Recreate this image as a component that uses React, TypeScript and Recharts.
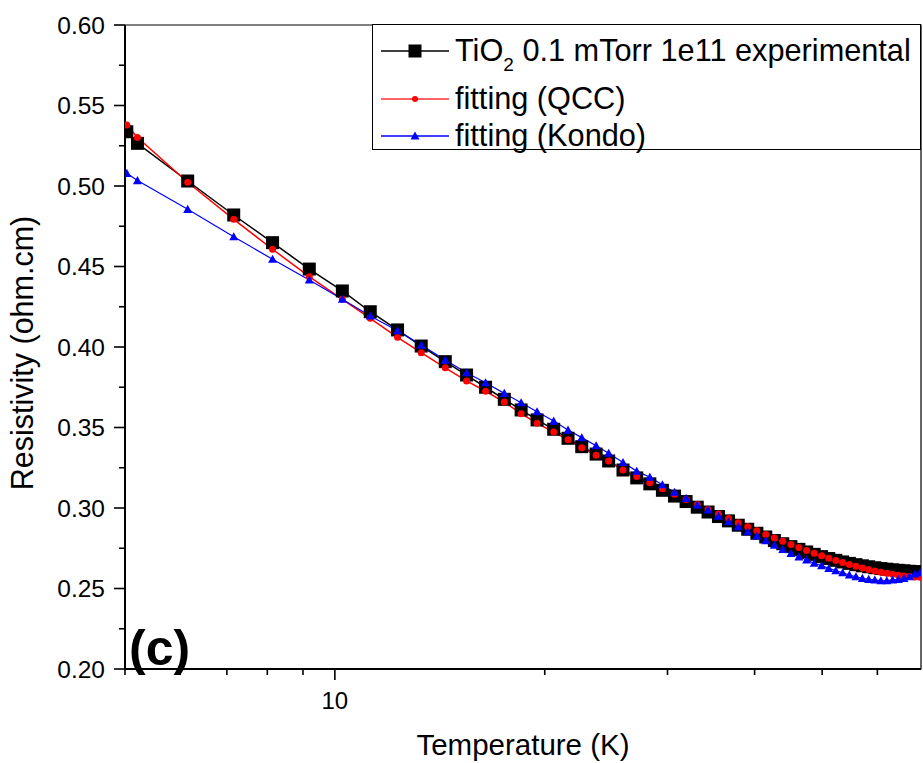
import React from 'react';
import { ComposedChart, Line, XAxis, YAxis, ReferenceArea, Legend } from 'recharts';

const temperatureK = [
  5.03, 5.21, 6.15, 7.16, 8.14, 9.19, 10.25, 11.24, 12.3, 13.3,
  14.4, 15.45, 16.45, 17.5, 18.5, 19.5, 20.6, 21.6, 22.6, 23.7,
  24.7, 25.9, 27.1, 28.3, 29.5, 30.7, 31.9, 33.1, 34.3, 35.5,
  36.7, 37.9, 39.1, 40.3, 41.5, 42.7, 43.9, 45.1, 46.3, 47.5,
  48.7, 49.9, 51.1, 52.3, 53.5, 54.7, 55.9, 57.1, 58.3, 59.5,
  60.7, 61.9, 63.1, 64.3, 65.5, 66.7, 67.9, 69.1,
];

const experimental = [
  0.5337, 0.5265, 0.5031, 0.482, 0.4648, 0.4484, 0.4348, 0.4219, 0.4106, 0.4006,
  0.3909, 0.3826, 0.375, 0.3675, 0.3609, 0.3547, 0.3489, 0.3433, 0.3381, 0.3335,
  0.3292, 0.3236, 0.3187, 0.315, 0.311, 0.3074, 0.304, 0.3005, 0.2975, 0.2947,
  0.292, 0.2893, 0.2868, 0.2843, 0.282, 0.2798, 0.2778, 0.276, 0.2743, 0.2727,
  0.2712, 0.2698, 0.2686, 0.2675, 0.2665, 0.2656, 0.2648, 0.2641, 0.2635, 0.2629,
  0.2624, 0.262, 0.2616, 0.2613, 0.261, 0.2607, 0.2605, 0.2603,
];

const fittingQCC = [
  0.5379, 0.5301, 0.5023, 0.4793, 0.4607, 0.4437, 0.4296, 0.4178, 0.406, 0.3965,
  0.3871, 0.3789, 0.3725, 0.3658, 0.3586, 0.3526, 0.3472, 0.3424, 0.3375, 0.3327,
  0.3292, 0.3236, 0.3195, 0.3157, 0.312, 0.3086, 0.3053, 0.3021, 0.2991, 0.2962,
  0.2935, 0.2909, 0.2884, 0.2859, 0.2836, 0.2814, 0.2793, 0.2773, 0.2754, 0.2736,
  0.2719, 0.2703, 0.2688, 0.2674, 0.2661, 0.2649, 0.2638, 0.2627, 0.2618, 0.2609,
  0.2601, 0.2594, 0.2588, 0.2583, 0.2578, 0.2575, 0.2572, 0.257,
];

const fittingKondo = [
  0.5079, 0.5034, 0.4855, 0.4685, 0.4545, 0.4416, 0.4297, 0.4193, 0.4101, 0.4012,
  0.3919, 0.384, 0.3778, 0.3712, 0.3654, 0.3598, 0.354, 0.3484, 0.3437, 0.3387,
  0.334, 0.3283, 0.3229, 0.3191, 0.3145, 0.3098, 0.306, 0.3019, 0.2988, 0.295,
  0.2915, 0.2884, 0.2853, 0.2826, 0.2797, 0.277, 0.2743, 0.2718, 0.2697, 0.2677,
  0.2657, 0.2642, 0.2625, 0.2611, 0.2598, 0.2584, 0.2573, 0.2563, 0.2557, 0.2553,
  0.2548, 0.2548, 0.2553, 0.2557, 0.2563, 0.2573, 0.259, 0.2598,
];

const xTicks = [5, 6, 7, 8, 9, 10, 20, 30, 40, 50, 60];
const xLabeledTicks = [10];
const yTicks = [0.2, 0.225, 0.25, 0.275, 0.3, 0.325, 0.35, 0.375, 0.4, 0.425, 0.45, 0.475, 0.5, 0.525, 0.55, 0.575, 0.6];

const seriesNames = ['experimental', 'fitting (QCC)', 'fitting (Kondo)'];

const data = temperatureK.map((t, i) => ({
  t,
  exp: experimental[i],
  qcc: fittingQCC[i],
  kondo: fittingKondo[i],
}));

const FONT = '"Liberation Sans", Arial, sans-serif';

const SquareDot = (props: any) => {
  const { cx, cy } = props;
  if (cx == null || cy == null) return null;
  return <rect x={cx - 6.5} y={cy - 6.5} width={13} height={13} fill="#000" />;
};
const CircleDot = (props: any) => {
  const { cx, cy } = props;
  if (cx == null || cy == null) return null;
  return <circle cx={cx} cy={cy} r={3.5} fill="#ff0000" />;
};
const TriDot = (props: any) => {
  const { cx, cy } = props;
  if (cx == null || cy == null) return null;
  const s = 4.5;
  return <polygon points={`${cx},${cy - s} ${cx - s},${cy + s * 0.8} ${cx + s},${cy + s * 0.8}`} fill="#0000ff" />;
};

const XTick = (props: any) => {
  const { x, y, payload } = props;
  const major = xLabeledTicks.includes(payload.value);
  return (
    <g>
      <line x1={x} y1={y} x2={x} y2={y + (major ? 11 : 6)} stroke="#000" strokeWidth={1.6} />
      {major && (
        <text x={x} y={y + 40} textAnchor="middle" fontSize={24} fontFamily={FONT} fill="#000">
          {payload.value}
        </text>
      )}
    </g>
  );
};

const YTick = (props: any) => {
  const { x, y, payload } = props;
  const v = payload.value;
  const major = Math.round(v * 1000) % 50 === 0;
  return (
    <g>
      <line x1={x - (major ? 11 : 6)} y1={y} x2={x} y2={y} stroke="#000" strokeWidth={1.6} />
      {major && (
        <text x={x - 20} y={y} dy="0.36em" textAnchor="end" fontSize={24.5} fontFamily={FONT} fill="#000">
          {v.toFixed(2)}
        </text>
      )}
    </g>
  );
};

const YLabel = (props: any) => {
  const vb = props.viewBox || { x: 0, y: 25, width: 125, height: 644 };
  const cx = vb.x + 22;
  const cy = vb.y + vb.height / 2 + 6;
  return (
    <text x={cx} y={cy} transform={`rotate(-90 ${cx} ${cy})`} textAnchor="middle" dy="0.36em" fontSize={30.5} fontFamily={FONT} fill="#000">
      Resistivity (ohm.cm)
    </text>
  );
};

const XLabel = (props: any) => {
  const vb = props.viewBox || { x: 125, y: 669, width: 796, height: 94 };
  const cx = vb.x + vb.width / 2;
  return (
    <text x={cx} y={vb.y + 86} textAnchor="middle" fontSize={29.5} fontFamily={FONT} fill="#000">
      Temperature (K)
    </text>
  );
};

const LegendContent = () => {
  const rows = [
    { color: '#000', kind: 'square', center: 26 },
    { color: '#ff3030', kind: 'circle', center: 73.5 },
    { color: '#0000ff', kind: 'tri', center: 110.5 },
  ];
  return (
    <div
      style={{
        position: 'relative',
        width: 549,
        height: 126,
        boxSizing: 'border-box',
        border: '1.5px solid #000',
        background: '#fff',
        fontFamily: FONT,
        fontSize: 30.7,
        color: '#000',
      }}
    >
      {rows.map((r, i) => (
        <div key={i} style={{ position: 'absolute', left: 0, top: r.center - 20, height: 40, width: 545 }}>
          <svg width={80} height={40} style={{ position: 'absolute', left: 6, top: 0 }}>
            <line x1={2} y1={20} x2={70} y2={20} stroke={r.color} strokeWidth={1.5} />
            {r.kind === 'square' && <rect x={29.5} y={13.5} width={13} height={13} fill="#000" />}
            {r.kind === 'circle' && <circle cx={36} cy={20} r={3} fill="#ff0000" />}
            {r.kind === 'tri' && <polygon points="36,15.5 31.5,23.6 40.5,23.6" fill="#0000ff" />}
          </svg>
          <div style={{ position: 'absolute', left: 82, top: 0, height: 40, lineHeight: '40px', whiteSpace: 'nowrap' }}>
            {i === 0 ? (
              <span>
                TiO<span style={{ fontSize: 19, position: 'relative', top: 10 }}>2</span> 0.1 mTorr 1e11 {seriesNames[0]}
              </span>
            ) : (
              seriesNames[i]
            )}
          </div>
        </div>
      ))}
    </div>
  );
};

export default function App() {
  return (
    <div style={{ position: 'absolute', left: 0, top: 0, width: 923, height: 763, background: '#fff' }}>
      <ComposedChart width={923} height={763} data={data} margin={{ top: 25, right: 2, bottom: 0, left: 0 }}>
        <XAxis
          dataKey="t"
          type="number"
          scale="log"
          domain={[5, 69.3]}
          allowDataOverflow
          ticks={xTicks}
          interval={0}
          tick={<XTick />}
          tickLine={false}
          tickSize={0}
          tickMargin={0}
          height={94}
          axisLine={{ stroke: '#000', strokeWidth: 2 }}
          label={{ content: <XLabel /> } as any}
        />
        <YAxis
          type="number"
          domain={[0.2, 0.6]}
          allowDataOverflow
          ticks={yTicks}
          interval={0}
          tick={<YTick />}
          tickLine={false}
          tickSize={0}
          tickMargin={0}
          width={125}
          axisLine={{ stroke: '#000', strokeWidth: 2 }}
          label={{ content: <YLabel /> } as any}
        />
        <ReferenceArea x1={5} x2={69.3} y1={0.2} y2={0.6} fill="none" stroke="#000" strokeWidth={1.2} ifOverflow="visible" />
        <Line
          dataKey="exp"
          name="experimental"
          stroke="#000"
          strokeWidth={1.5}
          dot={<SquareDot />}
          isAnimationActive={false}
        />
        <Line
          dataKey="qcc"
          name="fitting (QCC)"
          stroke="#ff0000"
          strokeWidth={1.5}
          dot={<CircleDot />}
          isAnimationActive={false}
        />
        <Line
          dataKey="kondo"
          name="fitting (Kondo)"
          stroke="#0000ff"
          strokeWidth={1.2}
          dot={<TriDot />}
          isAnimationActive={false}
        />
        <Legend
          layout="horizontal"
          verticalAlign="middle"
          align="center"
          content={<LegendContent />}
          wrapperStyle={{ position: 'absolute', left: 372, top: 24, width: 549, height: 126 }}
        />
      </ComposedChart>
      <div
        style={{
          position: 'absolute',
          left: 129,
          top: 617,
          fontFamily: FONT,
          fontWeight: 'bold',
          fontSize: 50,
          color: '#000',
          lineHeight: '62px',
        }}
      >
        (c)
      </div>
    </div>
  );
}
